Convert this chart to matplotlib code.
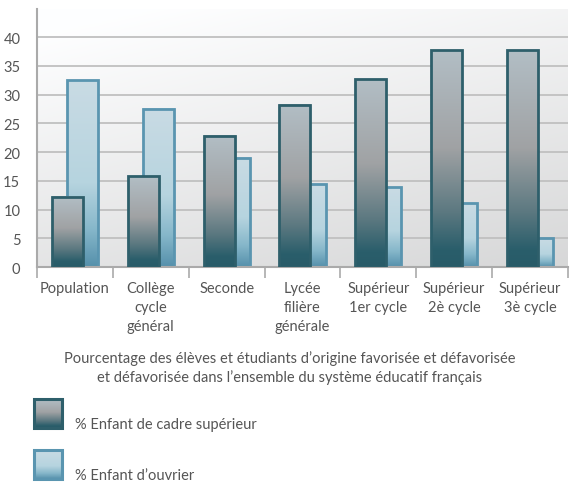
import numpy as np
import matplotlib
matplotlib.use("Agg")
import matplotlib.pyplot as plt
from matplotlib.colors import LinearSegmentedColormap
from matplotlib.patches import Rectangle

plt.rcParams['font.family'] = ['Lato', 'DejaVu Sans']

# data
categories = ['Population', 'Collège\ncycle\ngénéral', 'Seconde', 'Lycée\nfilière\ngénérale',
              'Supérieur\n1er cycle', 'Supérieur\n2è cycle', 'Supérieur\n3è cycle']
cadre = [12.2, 15.8, 22.8, 28.2, 32.7, 37.7, 37.7]
ouvrier = [32.5, 27.5, 19.0, 14.4, 13.9, 11.1, 5.0]
yticks = [0, 5, 10, 15, 20, 25, 30, 35, 40]
title = ("Pourcentage des élèves et étudiants d\u2019origine favorisée et défavorisée\n"
         "et défavorisée dans l\u2019ensemble du système éducatif français")
legend_labels = ['% Enfant de cadre supérieur', "% Enfant d\u2019ouvrier"]

txt = '#555555'
cmap_cadre = LinearSegmentedColormap.from_list('cadre', [
    (0.0, '#b2bec5'), (0.45, '#a0a2a4'), (0.75, '#5b7880'), (0.92, '#2a5e6b'), (1.0, '#285b68')])
cmap_ouv = LinearSegmentedColormap.from_list('ouv', [
    (0.0, '#c9dbe4'), (0.55, '#b6d4df'), (0.8, '#86b7ca'), (1.0, '#5590ab')])
edge_cadre = '#2e5f6b'
edge_ouv = '#5a95b0'

fig = plt.figure(figsize=(5.76, 4.89), dpi=100)
ax = fig.add_axes([37 / 576, 1 - 268 / 489, 531 / 576, 258 / 489])

# background gradient
gx, gy = np.meshgrid(np.linspace(0, 1, 200), np.linspace(0, 1, 200))
t = np.clip(0.75 * gy + 0.35 * gx - 0.08, 0, 1)
bg = 1.0 - 0.15 * t
bg_rgb = np.dstack([bg * 0.995, bg * 0.997, bg])
ax.imshow(bg_rgb, extent=(0, 1, 0, 1), transform=ax.transAxes, aspect='auto',
          origin='upper', zorder=0)

x = np.arange(len(categories)) + 0.5
w = 0.41


def gradient_bars(xpos, vals, cmap, edge, z):
    bars = ax.bar(xpos, vals, width=w, facecolor='none', edgecolor=edge, linewidth=2, zorder=z + 0.1)
    grad = np.linspace(0, 1, 256).reshape(-1, 1)
    for b in bars:
        x0, y0 = b.get_x(), b.get_y()
        bw, bh = b.get_width(), b.get_height()
        ax.imshow(grad, cmap=cmap, extent=(x0, x0 + bw, y0, y0 + bh), aspect='auto',
                  origin='upper', zorder=z)
    return bars


gradient_bars(x + 0.1, ouvrier, cmap_ouv, edge_ouv, 2)
gradient_bars(x - 0.1, cadre, cmap_cadre, edge_cadre, 3)

ax.set_xlim(0, len(categories))
ax.set_ylim(0, 44.9)
ax.set_yticks(yticks)
ax.set_yticklabels([str(v) for v in yticks])
ax.yaxis.grid(True, color='#c0c0c0', linewidth=1.3, zorder=1)
ax.set_axisbelow(True)

ax.set_xticks(np.arange(len(categories) + 1))
ax.set_xticklabels([])
ax.set_xticks(x, minor=True)
ax.set_xticklabels(categories, minor=True, fontsize=10.5, color=txt, linespacing=1.45)
ax.tick_params(axis='x', which='major', length=8, width=1.2, color='#aaaaaa', direction='out')
ax.tick_params(axis='x', which='minor', length=0, pad=10)
ax.tick_params(axis='y', length=0, pad=12, labelsize=10.5, labelcolor=txt)

for s in ['top', 'right']:
    ax.spines[s].set_visible(False)
ax.spines['left'].set_color('#aaaaaa')
ax.spines['left'].set_linewidth(1.5)
ax.spines['bottom'].set_color('#aaaaaa')
ax.spines['bottom'].set_linewidth(1.5)

fig.text(290 / 576, 1 - 368 / 489, title, ha='center', va='center', fontsize=10.5,
         color=txt, linespacing=1.35)

# legend
gradv = np.linspace(0, 1, 256).reshape(-1, 1)
for i, (lab, cm, ec) in enumerate(zip(legend_labels, [cmap_cadre, cmap_ouv], [edge_cadre, edge_ouv])):
    top = 400 + i * 51
    lax = fig.add_axes([34 / 576, 1 - (top + 29) / 489, 28 / 576, 29 / 489])
    lax.imshow(gradv, cmap=cm, extent=(0, 1, 0, 1), aspect='auto', origin='upper')
    lax.add_patch(Rectangle((0, 0), 1, 1, transform=lax.transAxes, facecolor='none',
                            edgecolor=ec, linewidth=2.2, clip_on=False))
    lax.set_axis_off()
    fig.text(75 / 576, 1 - (top + 25) / 489, lab, ha='left', va='center', fontsize=10.5, color=txt)

fig.savefig('out.png', dpi=100)
